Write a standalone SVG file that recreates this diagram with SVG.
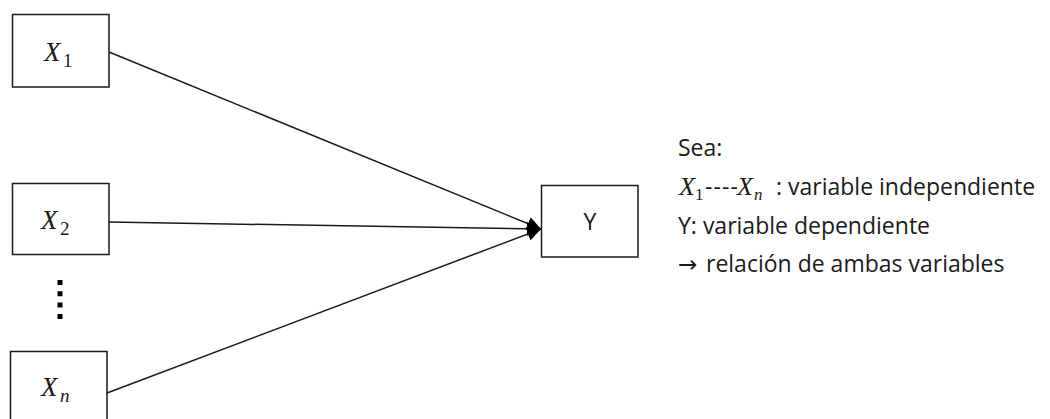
<svg xmlns="http://www.w3.org/2000/svg" width="1050" height="419" viewBox="0 0 1050 419">
  <style>
    .box { fill: #ffffff; stroke: #1a1a1a; stroke-width: 1.5; }
    .edge { fill: none; stroke: #1a1a1a; stroke-width: 1.5; }
    .math { font-family: "Liberation Serif", "DejaVu Serif", serif; font-style: italic; fill: #1a1a1a; }
    .sub { font-family: "Liberation Serif", "DejaVu Serif", serif; fill: #1a1a1a; }
    .label { font-family: "Open Sans", "Liberation Sans", sans-serif; font-size: 23px; fill: #1a1a1a; }
    .sym { font-family: "DejaVu Sans", sans-serif; font-size: 23px; fill: #1a1a1a; }
  </style>
  <defs>
    <marker id="arrow" viewBox="0 0 14 14" refX="14" refY="7" markerWidth="14" markerHeight="14" markerUnits="userSpaceOnUse" orient="auto">
      <path d="M0,0 L14,7 L0,14 Z" fill="#000000"/>
    </marker>
  </defs>
  <rect width="1050" height="419" fill="#ffffff"/>

  <g id="connectors">
    <line class="edge" x1="109" y1="52" x2="541" y2="229" marker-end="url(#arrow)"/>
    <line class="edge" x1="109" y1="222" x2="541" y2="229" marker-end="url(#arrow)"/>
    <line class="edge" x1="107" y1="393" x2="541" y2="229" marker-end="url(#arrow)"/>
  </g>

  <g id="node-x1">
    <rect class="box" x="12.5" y="14.5" width="96.5" height="72.5"/>
    <text class="math" x="44" y="61" font-size="27">X</text>
    <text class="sub" x="63" y="67" font-size="19">1</text>
  </g>

  <g id="node-x2">
    <rect class="box" x="12.5" y="183.5" width="96.5" height="71"/>
    <text class="math" x="41" y="229" font-size="27">X</text>
    <text class="sub" x="60" y="235" font-size="19">2</text>
  </g>

  <g id="ellipsis">
    <line x1="60" y1="280" x2="60" y2="322" stroke="#000000" stroke-width="5" stroke-dasharray="5 6.3"/>
  </g>

  <g id="node-xn">
    <rect class="box" x="10.5" y="351.5" width="96.5" height="80"/>
    <text class="math" x="41" y="396" font-size="27">X</text>
    <text class="math" x="60" y="402" font-size="19">n</text>
  </g>

  <g id="node-y">
    <rect class="box" x="541.5" y="185.5" width="96.5" height="71.5"/>
    <text class="label" x="590" y="230" text-anchor="middle">Y</text>
  </g>

  <g id="legend">
    <text class="label" x="678" y="156">Sea:</text>
    <text class="math" x="679" y="195" font-size="26">X</text>
    <text class="sub" x="695" y="200" font-size="17">1</text>
    <text class="label" x="705" y="195" textLength="33" lengthAdjust="spacing">----</text>
    <text class="math" x="737" y="195" font-size="26">X</text>
    <text class="math" x="754" y="200" font-size="17">n</text>
    <text class="label" x="776" y="195">: variable independiente</text>
    <text class="label" x="678" y="234">Y: variable dependiente</text>
    <text class="sym" x="678" y="272">→</text>
    <text class="label" x="706" y="272">relación de ambas variables</text>
  </g>
</svg>
